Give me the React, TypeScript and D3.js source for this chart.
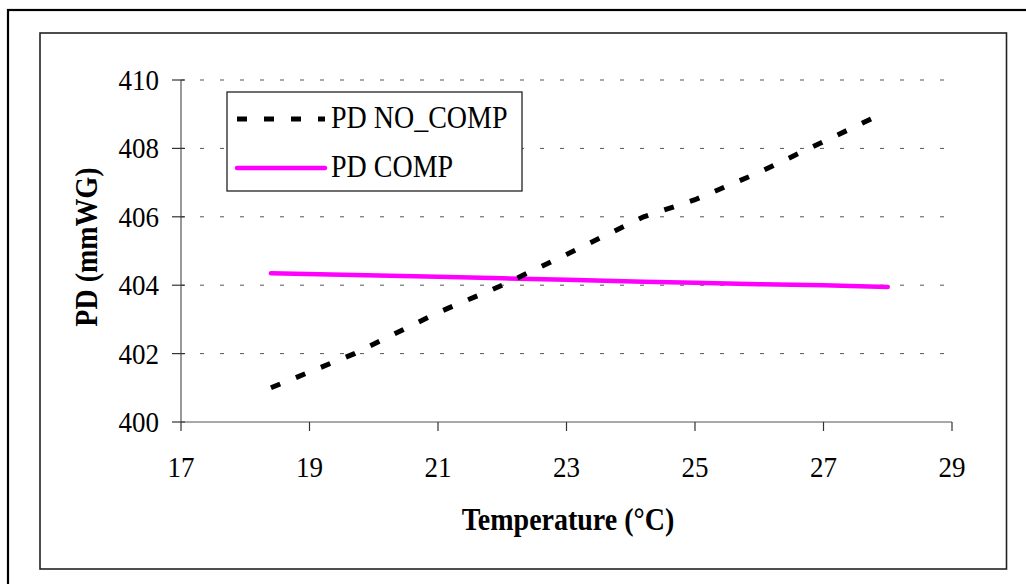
import React from "react";
import { scaleLinear, line } from "d3";

// temperature readings (°C) and pressure drop (mmWG)
const noCompTemps = [18.4, 19.7, 21.0, 22.0, 23.0, 24.2, 25.0, 26.0, 27.0, 27.9];
const noCompValues = [401.0, 402.0, 403.2, 404.0, 404.9, 406.0, 406.5, 407.3, 408.2, 409.0];
const compTemps = [18.4, 19.7, 21.0, 22.0, 23.0, 24.2, 25.0, 26.0, 27.0, 28.0];
const compValues = [404.35, 404.3, 404.25, 404.2, 404.16, 404.1, 404.07, 404.03, 404.0, 403.95];

const xTicks = [17, 19, 21, 23, 25, 27, 29];
const yTicks = [400, 402, 404, 406, 408, 410];

const seriesNames = ["PD NO_COMP", "PD COMP"];

const FONT = "'Liberation Serif', 'Times New Roman', serif";
const STRETCH = 1.1; // reference text is a bit taller than plain Times

function Label({ x, y, rotate = 0, anchor = "start", size = 27, bold = false, children }: any) {
  return (
    <text
      transform={`translate(${x},${y}) rotate(${rotate}) scale(1,${STRETCH})`}
      textAnchor={anchor}
      fontSize={size}
      fontWeight={bold ? "bold" : "normal"}
      fill="#000"
    >
      {children}
    </text>
  );
}

export default function App() {
  const x = scaleLinear().domain([17, 29]).range([181, 952]);
  const y = scaleLinear().domain([400, 410]).range([422, 80]);

  const lineGen = line<[number, number]>()
    .x(d => x(d[0]))
    .y(d => y(d[1]));

  const noComp = noCompTemps.map((t, i) => [t, noCompValues[i]] as [number, number]);
  const comp = compTemps.map((t, i) => [t, compValues[i]] as [number, number]);

  return (
    <svg
      width={1026}
      height={584}
      style={{ position: "absolute", left: 0, top: 0, background: "#fff" }}
      fontFamily={FONT}
    >
      {/* outer frame, runs off the page */}
      <rect x={8} y={10} width={1030} height={590} fill="none" stroke="#000" strokeWidth={2.2} />
      {/* chart area frame */}
      <rect x={40} y={33} width={966.5} height={536} fill="#fff" stroke="#222" strokeWidth={1.6} />

      {/* gridlines */}
      {yTicks.filter(v => v > 400).map(v => (
        <line
          key={"g" + v}
          x1={x(17)}
          x2={x(29)}
          y1={y(v)}
          y2={y(v)}
          stroke="#555"
          strokeWidth={1}
          strokeDasharray="4 16"
          strokeDashoffset={-19}
        />
      ))}

      {/* y axis */}
      <line x1={x(17)} x2={x(17)} y1={y(410)} y2={y(400)} stroke="#555" strokeWidth={1.2} />
      {yTicks.map(v => (
        <g key={"y" + v}>
          <line x1={x(17) - 9} x2={x(17) + 4} y1={y(v)} y2={y(v)} stroke="#333" strokeWidth={1.2} />
          <Label x={159} y={y(v) + 10} anchor="end">{v}</Label>
        </g>
      ))}

      {/* x axis */}
      <line x1={x(17)} x2={x(29)} y1={y(400)} y2={y(400)} stroke="#555" strokeWidth={1.2} />
      {xTicks.map(v => (
        <g key={"x" + v}>
          <line x1={x(v)} x2={x(v)} y1={y(400)} y2={y(400) + 9} stroke="#333" strokeWidth={1.2} />
          <Label x={x(v)} y={477} anchor="middle">{v}</Label>
        </g>
      ))}

      {/* axis titles */}
      <Label x={568} y={530} anchor="middle" size={28} bold>
        Temperature (°C)
      </Label>
      <Label x={97} y={247} rotate={-90} anchor="middle" size={28} bold>
        PD (mmWG)
      </Label>

      {/* series */}
      <path d={lineGen(comp) ?? ""} fill="none" stroke="#ff00ff" strokeWidth={4.5} strokeLinecap="round" />
      <path d={lineGen(noComp) ?? ""} fill="none" stroke="#000" strokeWidth={5} strokeDasharray="10 17" />

      {/* legend */}
      <rect x={227} y={92} width={295} height={99} fill="#fff" stroke="#222" strokeWidth={1.3} />
      {seriesNames.map((name, i) => {
        const ly = [119, 168][i];
        return (
          <g key={name}>
            <line
              x1={237}
              x2={325}
              y1={ly}
              y2={ly}
              stroke={i === 0 ? "#000" : "#ff00ff"}
              strokeWidth={i === 0 ? 5 : 4.5}
              strokeDasharray={i === 0 ? "10 17" : undefined}
              strokeLinecap={i === 0 ? "butt" : "round"}
            />
            <Label x={331} y={ly + 9} size={28}>{name}</Label>
          </g>
        );
      })}
    </svg>
  );
}
